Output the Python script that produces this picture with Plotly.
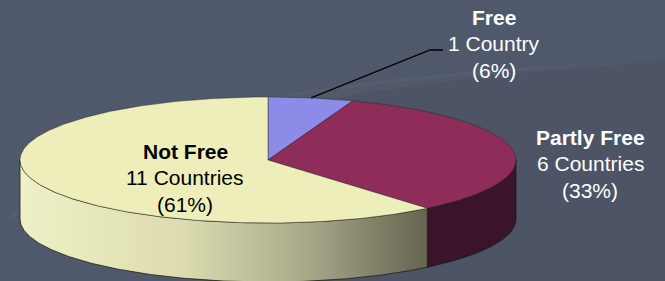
import numpy as np
import plotly.graph_objects as go

# ---- data ----
categories = ["Free", "Partly Free", "Not Free"]
counts = [1, 6, 11]

# ---- styles ----
top_colors = ["#8c8ce8", "#8e2c5a", "#eeeebb"]
side_colors = ["#5c5ca0", "#3a1428", None]  # Not Free side uses gradient
side_gradient = [[0.0, "#f0f0c6"], [0.4, "#dcdcb0"], [0.7, "#a9a98a"], [1.0, "#646450"]]
label_font_colors = ["#ffffff", "#ffffff", "#000000"]
label_centers = [(494, 17), (590, 137), (185, 151)]  # (x, y of first line) in pixels
line_gap = 26.5
BG = "#50586b"

W, H = 665, 281
cx, cy, a, b, depth = 268, 160, 248, 63, 59


def ell(theta, dy=0.0):
    t = np.radians(theta)
    return cx + a * np.sin(t), cy - b * np.cos(t) + dy


def arc(t0, t1, dy=0.0, n=None):
    n = n or max(4, int(abs(t1 - t0) * 1.5))
    ts = np.linspace(t0, t1, n)
    xs, ys = ell(ts, dy)
    return list(xs), list(ys)


total = sum(counts)
angles = np.cumsum([0] + [c / total * 360 for c in counts])

fig = go.Figure()

# sides (front half: 90..270 deg, clockwise from top)
for i, cat in enumerate(categories):
    t0, t1 = max(angles[i], 90), min(angles[i + 1], 270)
    if t1 <= t0:
        continue
    xt, yt = arc(t0, t1)
    xb, yb = arc(t1, t0, depth)
    xs = xt + xb + [xt[0]]
    ys = yt + yb + [yt[0]]
    kw = dict(x=xs, y=ys, mode="lines", fill="toself",
              line=dict(color="rgba(25,25,20,0.75)", width=1),
              hoverinfo="skip", showlegend=False)
    if side_colors[i] is None:
        kw["fillgradient"] = dict(type="horizontal", colorscale=side_gradient,
                                  start=min(xs), stop=max(xs))
    else:
        kw["fillcolor"] = side_colors[i]
    fig.add_trace(go.Scatter(**kw))

# top faces
for i, cat in enumerate(categories):
    xa, ya = arc(angles[i], angles[i + 1])
    xs = [cx] + xa + [cx]
    ys = [cy] + ya + [cy]
    fig.add_trace(go.Scatter(x=xs, y=ys, mode="lines", fill="toself",
                             fillcolor=top_colors[i],
                             line=dict(color="rgba(40,40,35,0.55)", width=0.8),
                             hoverinfo="skip", showlegend=False, name=cat))

# leader line for the smallest slice
mid = (angles[0] + angles[1]) / 2
sx, sy = ell(mid)
fig.add_trace(go.Scatter(x=[sx, 430, 443], y=[sy, 50, 50], mode="lines",
                         line=dict(color="#000000", width=1.3),
                         hoverinfo="skip", showlegend=False))

# labels
for i, cat in enumerate(categories):
    pct = round(counts[i] / total * 100)
    unit = "Country" if counts[i] == 1 else "Countries"
    lines = [f"<b>{cat}</b>", f"{counts[i]} {unit}", f"({pct}%)"]
    x0, y0 = label_centers[i]
    for j, txt in enumerate(lines):
        fig.add_annotation(x=x0, y=y0 + j * line_gap, text=txt, showarrow=False,
                           xanchor="center", yanchor="middle",
                           font=dict(family="Liberation Sans, Arial, sans-serif",
                                     size=21, color=label_font_colors[i]))

# subtle background swooshes
fig.add_shape(type="path", layer="below", line=dict(width=0),
              fillcolor="rgba(255,255,255,0.03)", xref="x", yref="y",
              path="M 5,225 Q 100,75 665,62 Q 150,92 5,225 Z")
fig.add_shape(type="path", layer="below", line=dict(width=0),
              fillcolor="rgba(0,0,0,0.045)", xref="x", yref="y",
              path="M 200,110 Q 400,75 665,60 L 665,281 L 200,281 Z")

fig.update_layout(
    width=W, height=H,
    margin=dict(l=0, r=0, t=0, b=0),
    paper_bgcolor=BG, plot_bgcolor=BG,
    xaxis=dict(range=[0, W], visible=False, fixedrange=True),
    yaxis=dict(range=[H, 0], visible=False, fixedrange=True),
    showlegend=False,
)

fig.write_html("out.html", config={"displayModeBar": False},
               post_script="document.body.style.margin='0';document.body.style.background='" + BG + "';")
